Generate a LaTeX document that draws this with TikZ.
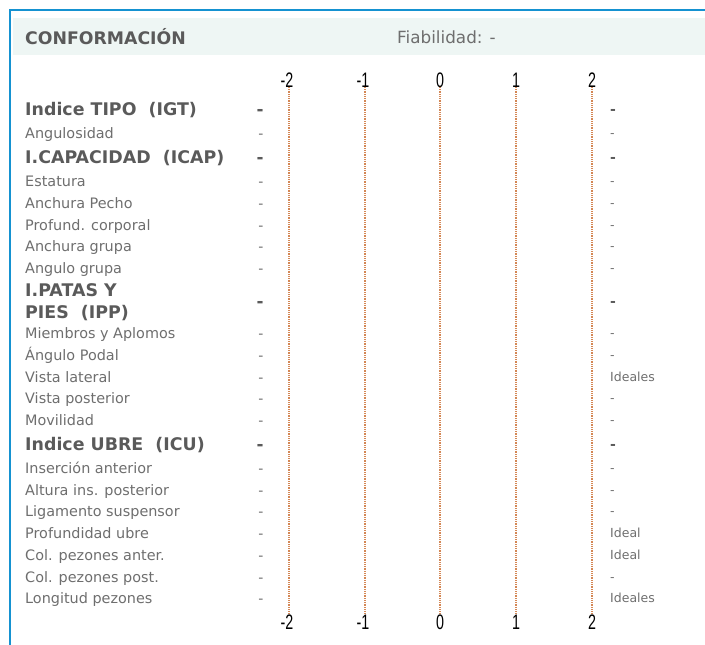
\documentclass[tikz,border=0pt]{standalone}
\usepackage{fontspec}
\setmainfont{DejaVu Sans}
\newfontfamily\narrowfont{Liberation Sans}[FakeStretch=0.68]
\definecolor{frameblue}{RGB}{21,146,209}
\definecolor{bandbg}{RGB}{238,246,244}
\definecolor{txtgray}{RGB}{110,110,110}
\definecolor{boldgray}{RGB}{90,90,90}
\definecolor{gridorange}{RGB}{212,135,85}
\tikzset{
  lbl/.style={anchor=base west, inner sep=0pt, text=txtgray, font=\fontsize{14.4}{17}\selectfont},
  blbl/.style={anchor=base west, inner sep=0pt, text=boldgray, font=\fontsize{17.4}{22}\selectfont\bfseries},
  dashl/.style={anchor=base, inner sep=0pt, text=txtgray, font=\fontsize{14}{17}\selectfont},
  bdashl/.style={anchor=base, inner sep=0pt, text=boldgray, font=\fontsize{16.8}{22}\selectfont\bfseries},
  rval/.style={anchor=base west, inner sep=0pt, text=txtgray, font=\fontsize{12.5}{15}\selectfont},
  brval/.style={anchor=base west, inner sep=0pt, text=boldgray, font=\fontsize{14}{17}\selectfont\bfseries},
  tick/.style={inner sep=0pt, text=black, font=\fontsize{21}{24}\selectfont\narrowfont},
  gridline/.style={draw=gridorange, line width=1.3pt, dash pattern=on 1pt off 0.8pt},
}
\begin{document}
\begin{tikzpicture}[x=1pt,y=-1pt]
\useasboundingbox (0,0) rectangle (705,645);
% header band and frame
\fill[bandbg] (13,18) rectangle (705,55);
\draw[frameblue, line width=2.2pt] (10,645) -- (10,10) -- (705,10);
\node[anchor=west, inner sep=0pt, text=boldgray, font=\fontsize{17.3}{20}\selectfont\bfseries] (title) at (25,37) {CONFORMACIÓN};
\node[anchor=west, inner sep=0pt, text=txtgray, font=\fontsize{16.8}{19}\selectfont] (fiab) at (397,37) {Fiabilidad: -};
% scale
\foreach \v/\x in {m2/289, m1/365, z/440, p1/516, p2/592}{
  \coordinate (t\v) at (\x,87);
  \coordinate (b\v) at (\x,613);
  \draw[gridline] (t\v) -- (b\v);
}
\foreach \v/\lx/\t in {m2/287/-2, m1/363/-1, z/440/0, p1/516/1, p2/592/2}{
  \node[tick] (lt\v) at (\lx,80) {\t};
  \node[tick] (lb\v) at (\lx,622) {\t};
}
% bold index rows
\foreach \y/\t [count=\i] in {109/Indice TIPO\ \ (IGT), 157/I.CAPACIDAD\ \ (ICAP), 444/Indice UBRE\ \ (ICU)}{
  \node[blbl] (bl\i) at (25,\y+6) {\t};
  \node[bdashl] (bd\i) at (260,\y+6) {-};
  \node[brval] (br\i) at (610,\y+5) {-};
}
\node[blbl] (blipp) at (25,290+6) {I.PATAS Y};
\node[blbl] (blipp2) at (25,312+6) {PIES\ \ (IPP)};
\node[bdashl] (bdipp) at (260,301+6) {-};
\node[brval] (bripp) at (610,301+5) {-};
% normal rows
\foreach \y/\t/\r [count=\i] in {
  133/Angulosidad/-,
  181/Estatura/-,
  203/Anchura Pecho/-,
  225/Profund. corporal/-,
  246/Anchura grupa/-,
  268/Angulo grupa/-,
  333/Miembros y Aplomos/-,
  355/Ángulo Podal/-,
  377/Vista lateral/Ideales,
  398/Vista posterior/-,
  420/Movilidad/-,
  468/Inserción anterior/-,
  490/Altura ins. posterior/-,
  511/Ligamento suspensor/-,
  533/Profundidad ubre/Ideal,
  555/Col. pezones anter./Ideal,
  577/Col. pezones post./-,
  598/Longitud pezones/Ideales}{
  \node[lbl] (l\i) at (25,\y+5) {\t};
  \node[dashl] (d\i) at (261,\y+5) {-};
  \node[rval] (r\i) at (610,\y+4.5) {\r};
}
\end{tikzpicture}
\end{document}
